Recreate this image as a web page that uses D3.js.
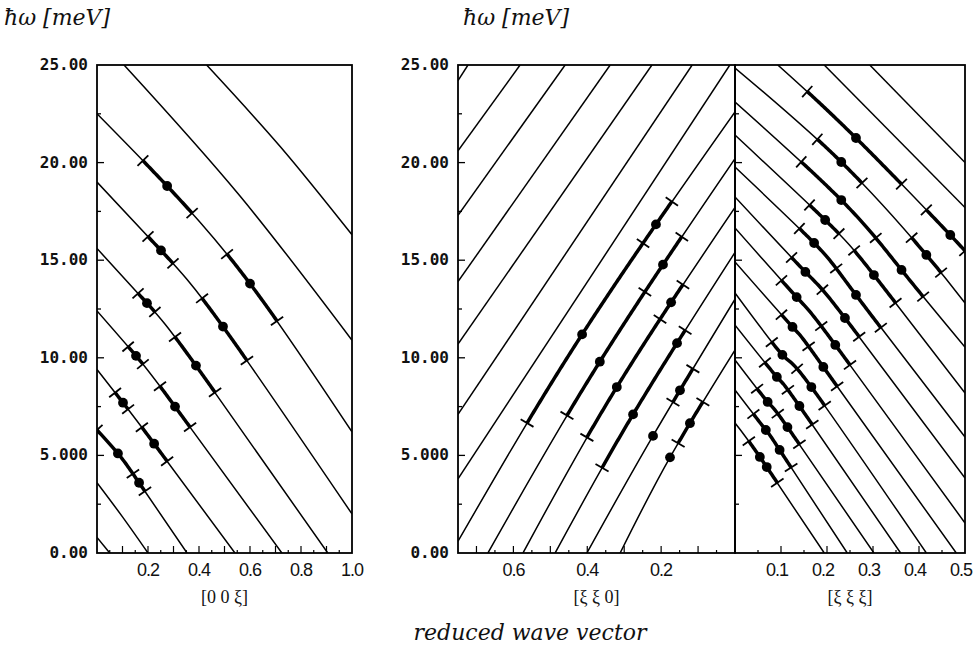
<!DOCTYPE html>
<html>
<head>
<meta charset="utf-8">
<script src="https://cdn.jsdelivr.net/npm/d3@7/dist/d3.min.js"></script>
<style>
  body { margin: 0; background: #fff; }
  text { fill: #111; }
</style>
</head>
<body>
<div id="graph"></div>
<script>
// ---- data: energy (meV) vs reduced wave vector ----
var energyTicks  = [0, 5, 10, 15, 20, 25]
var energyLabels = ["0.00", "5.000", "10.00", "15.00", "20.00", "25.00"]

var q001Ticks  = [0.2, 0.4, 0.6, 0.8, 1.0]
var q001Labels = ["0.2", "0.4", "0.6", "0.8", "1.0"]
var q110Ticks  = [0.6, 0.4, 0.2]
var q110Labels = ["0.6", "0.4", "0.2"]
var q111Ticks  = [0.1, 0.2, 0.3, 0.4, 0.5]
var q111Labels = ["0.1", "0.2", "0.3", "0.4", "0.5"]

// thin scan trajectories, [xi, E]
var lines001 = [
  [[0.43, 25], [0.72, 20.8], [1.0, 16.3]],
  [[0.106, 25], [0.56, 18.3], [1.0, 10.9]],
  [[0, 22.5], [0.275, 18.8], [0.6, 13.8], [1.0, 6.2]],
  [[0, 19.0], [0.251, 15.5], [0.494, 11.6], [1.0, 2.0]],
  [[0, 15.6], [0.196, 12.8], [0.388, 9.6], [0.905, 0]],
  [[0, 12.4], [0.153, 10.1], [0.306, 7.5], [0.725, 0]],
  [[0, 9.4], [0.102, 7.7], [0.224, 5.6], [0.541, 0]],
  [[0, 6.3], [0.082, 5.1], [0.165, 3.6], [0.353, 0]],
  [[0, 3.6], [0.1, 1.85], [0.2, 0]],
  [[0, 0.8], [0.05, 0]]
]
var lines110 = [
  [[0.75, 24.2], [0.723, 25]],
  [[0.75, 20.6], [0.582, 25]],
  [[0.75, 17.3], [0.46, 25]],
  [[0.75, 13.9], [0.338, 25]],
  [[0.75, 10.7], [0.225, 25]],
  [[0.75, 7.1], [0.116, 25]],
  [[0.75, 3.8], [0.014, 25]],
  [[0.75, 0.6], [0.414, 11.2], [0, 22.6]],
  [[0.669, 0], [0.366, 9.8], [0, 20.2]],
  [[0.574, 0], [0.32, 8.5], [0, 17.7]],
  [[0.487, 0], [0.276, 7.1], [0, 15.4]],
  [[0.401, 0], [0.222, 6.0], [0, 13.0]],
  [[0.311, 0], [0.176, 4.9], [0, 10.4]]
]
var lines111 = [
  [[0.293, 25], [0.5, 20.0]],
  [[0.194, 25], [0.5, 17.7]],
  [[0.093, 25], [0.263, 21.26], [0.468, 16.29], [0.5, 15.42]],
  [[0, 24.85], [0.231, 20.03], [0.416, 15.27], [0.5, 12.81]],
  [[0, 23.1], [0.231, 18.08], [0.362, 14.5], [0.5, 10.55]],
  [[0, 21.41], [0.196, 17.06], [0.302, 14.24], [0.5, 8.2]],
  [[0, 19.77], [0.172, 15.88], [0.263, 13.22], [0.5, 5.94]],
  [[0, 18.24], [0.153, 14.4], [0.239, 12.04], [0.5, 3.84]],
  [[0, 16.65], [0.134, 13.11], [0.218, 10.66], [0.5, 1.54]],
  [[0, 14.91], [0.125, 11.58], [0.192, 9.53], [0.481, 0]],
  [[0, 13.32], [0.103, 10.15], [0.166, 8.5], [0.416, 0]],
  [[0, 11.68], [0.091, 9.02], [0.14, 7.53], [0.36, 0]],
  [[0, 9.89], [0.071, 7.74], [0.114, 6.45], [0.302, 0]],
  [[0, 8.35], [0.067, 6.3], [0.097, 5.28], [0.244, 0]],
  [[0, 6.66], [0.054, 4.92], [0.194, 0]]
]

// measured stretches on a trajectory: bold span (xi), peak dots (xi), extra cross marks (xi)
var segs001 = [
  {line: 2, span: [0.18, 0.373],  dots: [0.275], marks: []},
  {line: 3, span: [0.2, 0.298],   dots: [0.251], marks: []},
  {line: 2, span: [0.51, 0.706],  dots: [0.6],   marks: []},
  {line: 4, span: [0.161, 0.227], dots: [0.196], marks: []},
  {line: 3, span: [0.412, 0.588], dots: [0.494], marks: []},
  {line: 5, span: [0.122, 0.18],  dots: [0.153], marks: []},
  {line: 4, span: [0.306, 0.463], dots: [0.388], marks: []},
  {line: 6, span: [0.071, 0.122], dots: [0.102], marks: []},
  {line: 5, span: [0.247, 0.365], dots: [0.306], marks: []},
  {line: 6, span: [0.176, 0.275], dots: [0.224], marks: []},
  {line: 7, span: [0.0, 0.188],   dots: [0.082, 0.165], marks: [0.141]}
]
var segs110 = [
  {line: 7,  span: [0.563, 0.171], dots: [0.414, 0.214], marks: [0.249]},
  {line: 8,  span: [0.455, 0.144], dots: [0.366, 0.195], marks: [0.244]},
  {line: 9,  span: [0.401, 0.141], dots: [0.32, 0.173],  marks: [0.203]},
  {line: 10, span: [0.36, 0.135],  dots: [0.276, 0.157], marks: []},
  {line: 11, span: [0.168, 0.114], dots: [0.149], marks: []},
  {line: 12, span: [0.154, 0.087], dots: [0.122], marks: []},
  {line: 11, span: null, dots: [0.222], marks: []},
  {line: 12, span: null, dots: [0.176], marks: []}
]
var segs111 = [
  {line: 2,  span: [0.157, 0.362], dots: [0.263], marks: []},
  {line: 2,  span: [0.416, 0.5],   dots: [0.468], marks: []},
  {line: 3,  span: [0.179, 0.276], dots: [0.231], marks: []},
  {line: 3,  span: [0.384, 0.448], dots: [0.416], marks: []},
  {line: 4,  span: [0.144, 0.409], dots: [0.231, 0.362], marks: [0.306]},
  {line: 5,  span: [0.162, 0.226], dots: [0.196], marks: []},
  {line: 5,  span: [0.259, 0.349], dots: [0.302], marks: []},
  {line: 6,  span: [0.14, 0.317],  dots: [0.172, 0.263], marks: [0.22]},
  {line: 7,  span: [0.123, 0.27],  dots: [0.153, 0.239], marks: [0.19]},
  {line: 8,  span: [0.101, 0.25],  dots: [0.134, 0.218], marks: [0.1875]},
  {line: 9,  span: [0.101, 0.222], dots: [0.125, 0.192], marks: [0.16]},
  {line: 10, span: [0.08, 0.195],  dots: [0.103, 0.166], marks: [0.135]},
  {line: 11, span: [0.065, 0.168], dots: [0.091, 0.14],  marks: [0.115]},
  {line: 12, span: [0.048, 0.14],  dots: [0.071, 0.114], marks: [0.093]},
  {line: 13, span: [0.04, 0.122],  dots: [0.067, 0.097], marks: []},
  {line: 14, span: [0.03, 0.092],  dots: [0.054, 0.069], marks: []}
]

// ---- layout ----
var width = 976, height = 660
var svg = d3.select("#graph").append("svg").attr("width", width).attr("height", height)

var y = d3.scaleLinear().domain([0, 25]).range([553, 65])

var panels = [
  {id: "p001", x: d3.scaleLinear().domain([0, 1]).range([97, 352]),    lines: lines001, segs: segs001,
   ticks: q001Ticks, labels: q001Labels, labelShift: 0, minor: d3.range(0.05, 1.0, 0.05), title: "[0 0 \u03be]"},
  {id: "p110", x: d3.scaleLinear().domain([0.75, 0]).range([458, 735]), lines: lines110, segs: segs110,
   ticks: q110Ticks, labels: q110Labels, labelShift: 0, minor: d3.range(0.05, 0.75, 0.05), title: "[\u03be \u03be 0]"},
  {id: "p111", x: d3.scaleLinear().domain([0, 0.5]).range([735, 965]),  lines: lines111, segs: segs111,
   ticks: q111Ticks, labels: q111Labels, labelShift: -4, minor: d3.range(0.05, 0.5, 0.05), title: "[\u03be \u03be \u03be]"}
]

// position along a drawn trajectory where it reaches screen x = tx
function lengthAtX(node, tx) {
  var lo = 0, hi = node.getTotalLength()
  for (var k = 0; k < 40; k++) {
    var mid = (lo + hi) / 2
    if (node.getPointAtLength(mid).x < tx) lo = mid; else hi = mid
  }
  return (lo + hi) / 2
}

var defs = svg.append("defs")
var line = d3.line().curve(d3.curveNatural)

panels.forEach(function(p) {
  var r = p.x.range(), x0 = Math.min(r[0], r[1]), x1 = Math.max(r[0], r[1])
  defs.append("clipPath").attr("id", "clip-" + p.id)
      .append("rect").attr("x", x0).attr("y", y(25)).attr("width", x1 - x0).attr("height", y(0) - y(25))

  var g = svg.append("g").attr("clip-path", "url(#clip-" + p.id + ")")
  line.x(function(d) { return p.x(d[0]) }).y(function(d) { return y(d[1]) })

  var paths = g.selectAll(".thin").data(p.lines).enter().append("path")
   .attr("class", "thin")
   .attr("d", line).attr("fill", "none").attr("stroke", "#000").attr("stroke-width", 1.5)
   .nodes()

  p.segs.forEach(function(s) {
    var node = paths[s.line]
    if (s.span) {
      var la = lengthAtX(node, p.x(s.span[0])), lb = lengthAtX(node, p.x(s.span[1]))
      var l0 = Math.min(la, lb), l1 = Math.max(la, lb), pts = []
      for (var l = l0; l < l1; l += 2) { var q = node.getPointAtLength(l); pts.push([q.x, q.y]) }
      var qe = node.getPointAtLength(l1); pts.push([qe.x, qe.y])
      g.append("path").attr("d", d3.line()(pts)).attr("fill", "none")
       .attr("stroke", "#000").attr("stroke-width", 3.5)

      // cross marks across the trajectory
      s.span.concat(s.marks).forEach(function(m) {
        var lm = lengthAtX(node, p.x(m))
        var a = node.getPointAtLength(Math.max(0, lm - 2)), b = node.getPointAtLength(lm + 2), c = node.getPointAtLength(lm)
        var dx = b.x - a.x, dy = b.y - a.y, len = Math.sqrt(dx * dx + dy * dy)
        var nx = -dy / len * 7.5, ny = dx / len * 7.5
        g.append("line").attr("x1", c.x - nx).attr("y1", c.y - ny).attr("x2", c.x + nx).attr("y2", c.y + ny)
         .attr("stroke", "#000").attr("stroke-width", 1.8)
      })
    }
    g.selectAll(null).data(s.dots).enter().append("circle")
     .attr("cx", function(d) { return node.getPointAtLength(lengthAtX(node, p.x(d))).x })
     .attr("cy", function(d) { return node.getPointAtLength(lengthAtX(node, p.x(d))).y })
     .attr("r", 4.9).attr("fill", "#000")
  })

  // frame
  svg.append("rect").attr("x", x0).attr("y", y(25)).attr("width", x1 - x0).attr("height", y(0) - y(25))
     .attr("fill", "none").attr("stroke", "#000").attr("stroke-width", 1.8)

  // bottom ticks pointing in
  svg.selectAll(null).data(p.minor).enter().append("line")
     .attr("x1", function(d) { return p.x(d) }).attr("x2", function(d) { return p.x(d) })
     .attr("y1", y(0)).attr("y2", function(d) { return Math.abs(d * 10 - Math.round(d * 10)) < 1e-6 ? y(0) - 7 : y(0) - 3 })
     .attr("stroke", "#000").attr("stroke-width", 1.2)

  svg.selectAll(null).data(p.ticks).enter().append("text")
     .attr("x", function(d) { return p.x(d) + p.labelShift }).attr("y", 576)
     .attr("text-anchor", "middle").attr("font-family", "Liberation Sans, Arial, sans-serif")
     .attr("font-size", 18).attr("letter-spacing", -1)
     .text(function(d, i) { return p.labels[i] })

  svg.append("text").attr("x", (x0 + x1) / 2).attr("y", 603).attr("text-anchor", "middle")
     .attr("font-family", "Liberation Serif, serif").attr("font-size", 18)
     .text(p.title)
})

// energy axes: left of first and second panel, inward ticks on every frame edge
var eMinor = d3.range(2.5, 25, 2.5)
;[97, 458, 735].forEach(function(ex) {
  svg.selectAll(null).data(eMinor).enter().append("line")
     .attr("x1", ex).attr("x2", function(d) { return ex + (d % 5 === 0 ? 7 : 4) })
     .attr("y1", function(d) { return y(d) }).attr("y2", function(d) { return y(d) })
     .attr("stroke", "#000").attr("stroke-width", 1.3)
})
;[88, 449].forEach(function(lx) {
  svg.selectAll(null).data(energyTicks).enter().append("text")
     .attr("x", lx).attr("y", function(d) { return y(d) + 5 })
     .attr("text-anchor", "end").attr("font-family", "DejaVu Sans Mono, monospace")
     .attr("font-size", 16).attr("font-weight", "bold")
     .text(function(d, i) { return energyLabels[i] })
  svg.append("text").attr("x", lx === 88 ? 4 : 463).attr("y", 25)
     .attr("font-family", "DejaVu Serif, serif").attr("font-style", "italic").attr("font-size", 22)
     .text("\u0127\u03c9 [meV]")
})

svg.append("text").attr("x", 530).attr("y", 640).attr("text-anchor", "middle")
   .attr("font-family", "DejaVu Serif, serif").attr("font-style", "italic").attr("font-size", 22)
   .text("reduced wave vector")
</script>
</body>
</html>
